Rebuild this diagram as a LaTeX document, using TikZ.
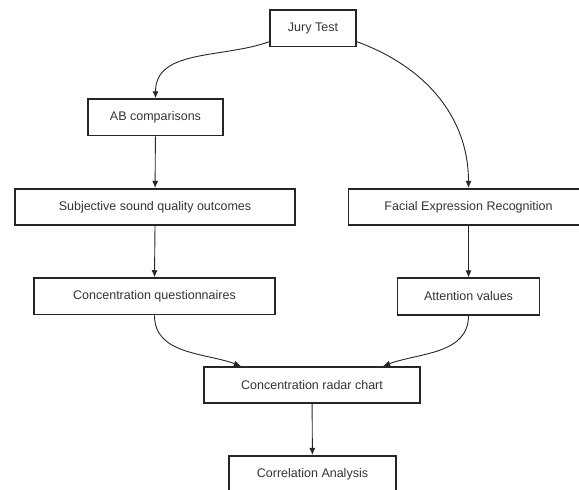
\documentclass[tikz,border=0pt]{standalone}
\usepackage{fontspec}
\setmainfont{Liberation Sans}
\usetikzlibrary{positioning,arrows.meta}

\begin{document}
\begin{tikzpicture}[->,>={Latex[length=7pt,width=6pt]},x=1pt,y=-1pt,auto,
		line width=0.9pt,draw=black!85,
		box node/.style={rectangle,draw,line width=1.6pt,minimum height=36.5pt,inner sep=0pt,font=\fontsize{12.5}{14}\selectfont,text=black!80}]
		\clip (0,0) rectangle (579,490);
		\node[box node, minimum width=86pt] (jt) at (313,28.3) {Jury Test};
		\node[box node, minimum width=135pt] (ab) at (155.5,117.3) {AB comparisons};
		\node[box node, minimum width=280pt] (ss) at (155,207) {Subjective sound quality outcomes};
		\node[box node, minimum width=240pt] (fe) at (468.5,207) {Facial Expression Recognition};
		\node[box node, minimum width=241pt] (cq) at (154.5,296.3) {Concentration questionnaires};
		\node[box node, minimum width=142pt] (av) at (468.5,296.5) {Attention values};
		\node[box node, minimum width=216pt] (cr) at (312,385) {Concentration radar chart};
		\node[box node, minimum width=167pt] (ca) at (312.5,474) {Correlation Analysis};
		\path[->]
		(jt.197) edge [out=200,in=90] (ab.north)
		(jt.-17) edge [out=-20,in=90] (fe.north)
		(ab) edge (ss)
		(ss.south) edge (cq.north)
		(fe) edge (av)
		(cq.south) edge [out=-90,in=160] (cr.165)
		(av.south) edge [out=-90,in=20] (cr.15)
		(cr) edge (ca);
		\end{tikzpicture}
\end{document}
